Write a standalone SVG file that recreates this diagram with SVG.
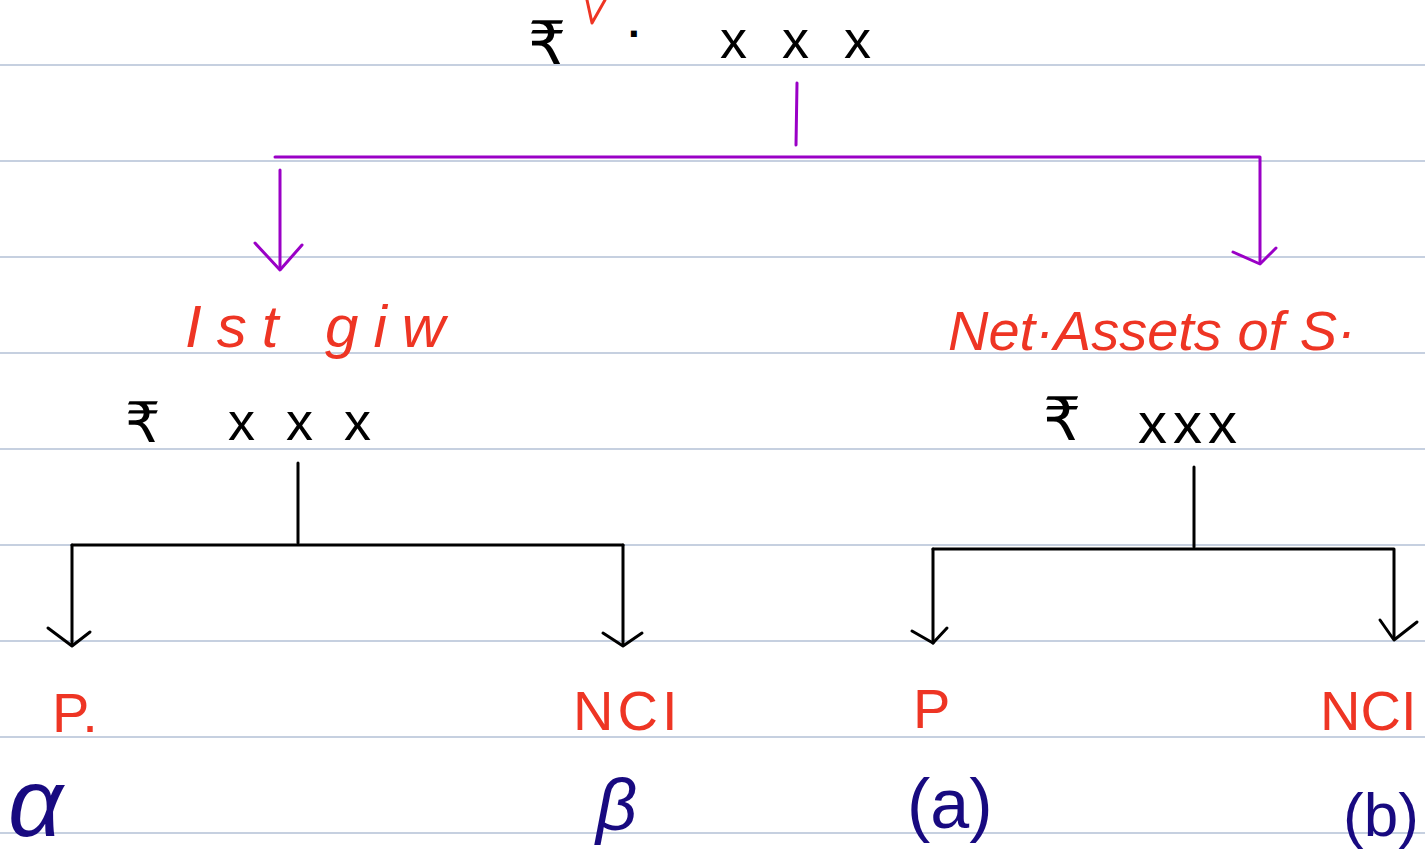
<svg xmlns="http://www.w3.org/2000/svg" width="1425" height="856" viewBox="0 0 1425 856">
<style>
.rule{stroke:#b3c0d6;stroke-width:1.5}
.purple{stroke:#9a00c6;stroke-width:3;fill:none;stroke-linecap:round;stroke-linejoin:round}
.black{stroke:#000;stroke-width:3;fill:none;stroke-linecap:round;stroke-linejoin:round}
.redl{stroke:#ee3524;stroke-width:3;fill:none;stroke-linecap:round;stroke-linejoin:round}
text{font-family:"Liberation Sans","DejaVu Sans",sans-serif}
.amt{fill:#000;font-size:54px}
.red{fill:#ee3524;font-size:60px;font-style:italic}
.redu{fill:#ee3524;font-size:56px}
.blue{fill:#180a80;font-size:72px}
</style>
<rect width="1425" height="856" fill="#fff"/>
<g id="rules">
<line class="rule" x1="0" y1="65" x2="1425" y2="65"/>
<line class="rule" x1="0" y1="161" x2="1425" y2="161"/>
<line class="rule" x1="0" y1="257" x2="1425" y2="257"/>
<line class="rule" x1="0" y1="353" x2="1425" y2="353"/>
<line class="rule" x1="0" y1="449" x2="1425" y2="449"/>
<line class="rule" x1="0" y1="545" x2="1425" y2="545"/>
<line class="rule" x1="0" y1="641" x2="1425" y2="641"/>
<line class="rule" x1="0" y1="737" x2="1425" y2="737"/>
<line class="rule" x1="0" y1="833" x2="1425" y2="833"/>
</g>
<g id="connectors">
<path class="redl" d="M587,0 L592,23 L605,0"/>
<path class="purple" d="M797,83 L796,145"/>
<path class="purple" d="M275,157 L1260,157 L1260,262"/>
<path class="purple" d="M1233,252 L1260,264 L1276,248"/>
<path class="purple" d="M280,170 L280,268"/>
<path class="purple" d="M255,243 L280,270 L302,245"/>
<path class="black" d="M298,463 L298,543"/>
<path class="black" d="M72,545 L623,545"/>
<path class="black" d="M72,545 L72,645"/>
<path class="black" d="M48,628 L72,646 L90,632"/>
<path class="black" d="M623,545 L623,645"/>
<path class="black" d="M603,633 L623,646 L642,633"/>
<path class="black" d="M1194,467 L1194,547"/>
<path class="black" d="M933,549 L1394,549 L1394,637"/>
<path class="black" d="M912,631 L933,643 L947,628"/>
<path class="black" d="M933,549 L933,643"/>
<path class="black" d="M1380,620 L1394,640 L1417,622"/>
</g>
<g id="top-amount">
<text class="amt" x="528" y="64" style="font-size:60px">₹</text>
<text class="amt" x="628" y="48" style="font-size:42px;font-weight:bold">·</text>
<text class="amt" x="720" y="58" letter-spacing="10">x x x</text>
</g>
<g id="left-node">
<text class="red" x="185" y="347" letter-spacing="15">Ist giw</text>
<text class="amt" x="125" y="442" style="font-size:56px">₹</text>
<text class="amt" x="228" y="440" letter-spacing="8">x x x</text>
</g>
<g id="right-node">
<text class="red" x="948" y="350" style="font-size:56px">Net·Assets of S·</text>
<text class="amt" x="1043" y="440" style="font-size:60px">₹</text>
<text class="amt" x="1138" y="443" style="font-size:58px" letter-spacing="6">xxx</text>
</g>
<g id="left-p">
<text class="redu" x="52" y="732">P.</text>
<text class="blue" x="8" y="836" style="font-size:96px;font-style:italic">α</text>
</g>
<g id="left-nci">
<text class="redu" x="573" y="730" letter-spacing="4">NCI</text>
<text class="blue" x="596" y="830" style="font-style:italic">β</text>
</g>
<g id="right-p">
<text class="redu" x="913" y="728">P</text>
<text class="blue" x="907" y="828" style="font-size:70px">(a)</text>
</g>
<g id="right-nci">
<text class="redu" x="1320" y="730">NCI</text>
<text class="blue" x="1343" y="836" style="font-size:62px">(b)</text>
</g>
</svg>
